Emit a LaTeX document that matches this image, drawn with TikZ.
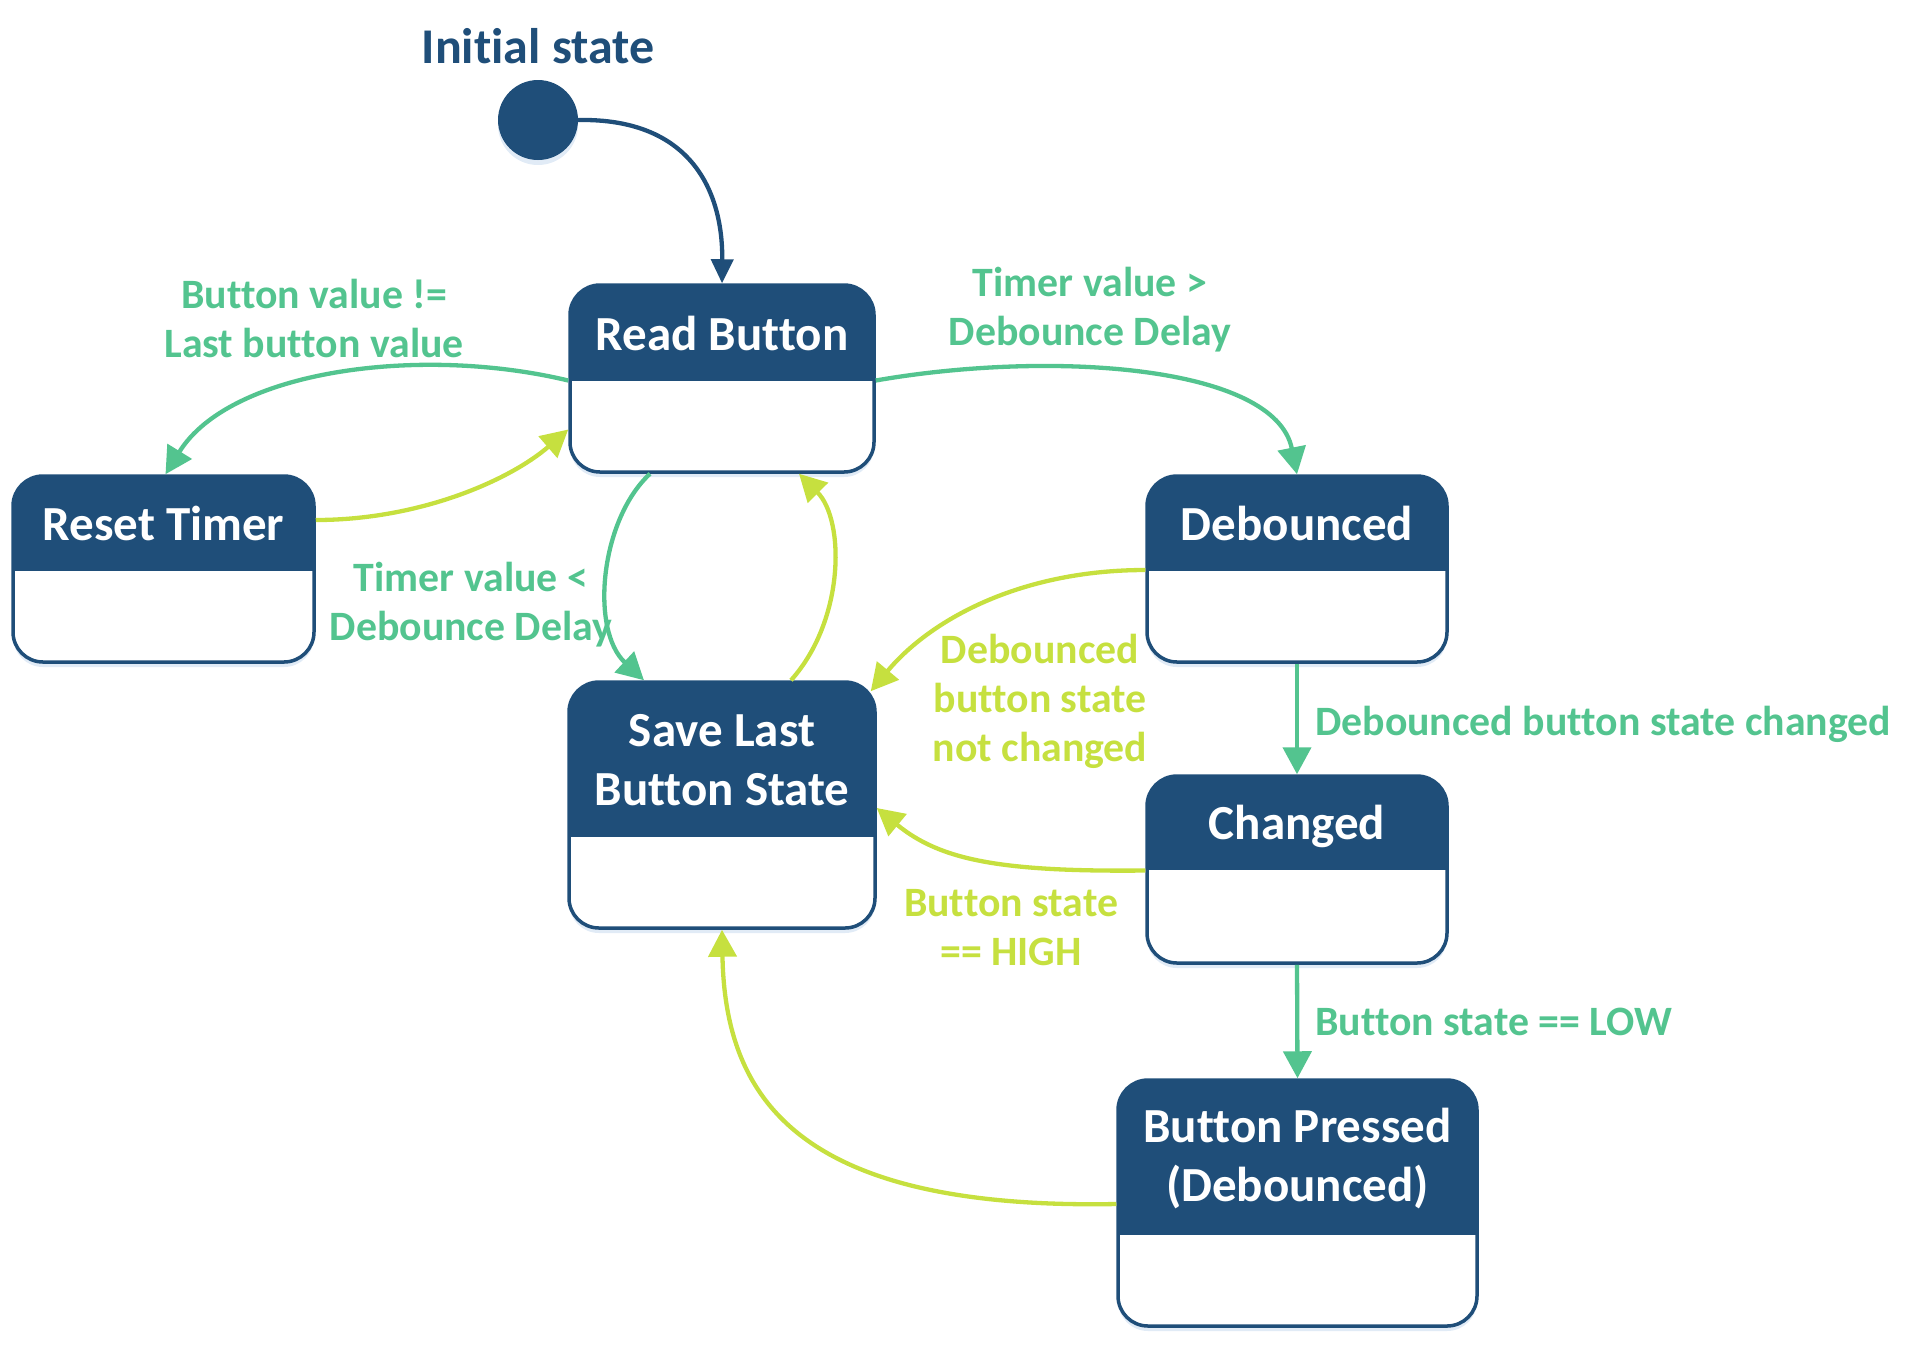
\documentclass[tikz,border=0pt]{standalone}
\usepackage{fontspec}
\setmainfont[Ligatures=NoCommon, RawFeature={-liga;-clig;-calt;-dlig}]{Carlito}
\usetikzlibrary{arrows.meta,calc,shadows}
\definecolor{navy}{HTML}{1F4E79}
\definecolor{tgreen}{HTML}{53C48F}
\definecolor{lime}{HTML}{C6E03F}
\definecolor{shade}{HTML}{D9E6F4}
\begin{document}
\begin{tikzpicture}[x=1pt,y=-1pt,
  state/.style n args={3}{rectangle, rounded corners=30pt, draw=navy, line width=3.5pt,
    fill=white, minimum width=#1, minimum height=#2, inner sep=0pt,
    drop shadow={shadow xshift=0pt, shadow yshift=-5pt, fill=shade, opacity=0.8},
    path picture={\fill[navy, sharp corners] (path picture bounding box.north west) rectangle
      ($(path picture bounding box.north east)+(0,#3)$);}},
  stitle/.style={text=white, font=\fontsize{49}{59}\selectfont\bfseries, align=center, inner sep=0pt},
  lbl/.style={font=\fontsize{41.8}{49}\selectfont\bfseries, align=center, inner sep=0pt},
  glbl/.style={lbl, text=tgreen},
  llbl/.style={lbl, text=lime},
  conn/.style={line width=4.3pt, -{Triangle[length=27pt, width=28pt]}},
  gconn/.style={conn, draw=tgreen},
  lconn/.style={conn, draw=lime},
  nconn/.style={line width=4.3pt, draw=navy, -{Triangle[length=24pt, width=22pt]}}
]
\useasboundingbox (0,0) rectangle (1913,1350);

% initial state
\node[font=\fontsize{50}{60}\selectfont\bfseries, text=navy, inner sep=0pt] (initT) at (538,46) {Initial state};
\node[circle, fill=navy, minimum size=80pt, inner sep=0pt,
  drop shadow={shadow xshift=0pt, shadow yshift=-5pt, fill=shade, opacity=0.8}] (init) at (538,120) {};

% states
\node[state={304pt}{187pt}{96}] (RB) at (722,378.5) {};
\node[stitle] (RBt) at (722,333) {Read Button};

\node[state={301pt}{186pt}{95}] (RT) at (163.5,569) {};
\node[stitle] (RTt) at (163.5,523) {Reset Timer};

\node[state={300pt}{186pt}{95}] (DB) at (1297,569) {};
\node[stitle] (DBt) at (1297,523) {Debounced};

\node[state={306pt}{246pt}{155}] (SL) at (722,805) {};
\node[stitle] (SLt) at (722,760) {Save Last\\Button State};

\node[state={300pt}{187pt}{94}] (CH) at (1297,869.5) {};
\node[stitle] (CHt) at (1297,826.5) {Changed};

\node[state={359pt}{246pt}{155}] (BP) at (1297.5,1203) {};
\node[stitle] (BPt) at (1297.5,1158) {Button Pressed\\(Debounced)};

% connectors
\draw[nconn] (init.east) .. controls (690,118) and (723,190) .. (RB.north);

\draw[gconn] ($(RB.west)+(0,2)$) .. controls (420,345) and (230,370) .. ($(RT.north)+(2,0)$);
\draw[lconn] ($(RT.east)+(0,-49)$) .. controls (420,520) and (510,480) .. ($(RB.west)+(0,51)$);

\draw[gconn] ($(RB.east)+(0,2)$) .. controls (1050,350) and (1275,365) .. (DB.north);

\draw[gconn] ($(RB.south)+(-72,0)$) .. controls (600,520) and (590,630) .. ($(SL.north)+(-78,0)$);
\draw[lconn] ($(SL.north)+(69,0)$) .. controls (845,620) and (845,520) .. ($(RB.south)+(77,0)$);

\draw[lconn] ($(DB.west)+(0,1)$) .. controls (1020,570) and (930,620) .. ($(SL.north east)+(-6,11)$);

\draw[gconn] (DB.south) -- (CH.north);
\draw[lconn] ($(CH.west)+(0,1)$) .. controls (1000,872) and (940,860) .. ($(SL.east)+(0,3)$);
\draw[gconn] (CH.south) -- (BP.north);

\draw[lconn] ($(BP.west)+(0,1)$) .. controls (800,1210) and (725,1100) .. (SL.south);

% labels
\node[glbl] (L1) at (314,318) {Button value !=\\Last button value};
\node[glbl] (L2) at (1090,310) {Timer value >\\Debounce Delay};
\node[glbl] (L3) at (471,605) {Timer value <\\Debounce Delay};
\node[llbl] (L4) at (1040,701) {Debounced\\button state\\not changed};
\node[glbl, anchor=west] (L5) at (1315,724) {Debounced button state changed};
\node[llbl] (L6) at (1011,928) {Button state\\== HIGH};
\node[glbl, anchor=west] (L7) at (1315,1022) {Button state == LOW};
\end{tikzpicture}
\end{document}
